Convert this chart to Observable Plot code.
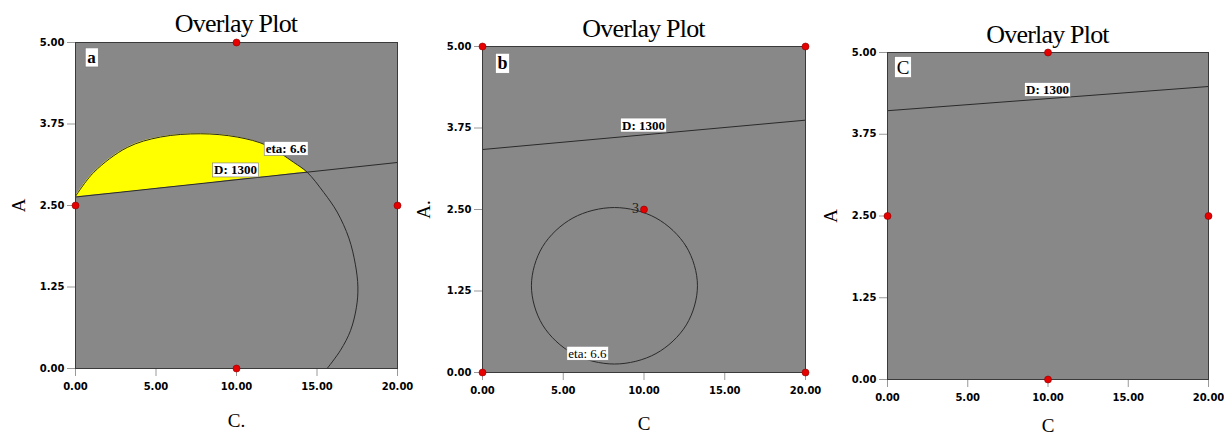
<!DOCTYPE html>
<html><head><meta charset="utf-8">
<script src="https://cdn.jsdelivr.net/npm/d3@7"></script>
<script src="https://cdn.jsdelivr.net/npm/@observablehq/plot@0.6"></script>
<style>
body{margin:0;background:#fff;}
#wrap{position:relative;width:1224px;height:435px;overflow:hidden;background:#fff;}
.panel{position:absolute;top:0;height:435px;}
.title{position:absolute;font-family:"Liberation Serif","Times New Roman",serif;font-size:26px;line-height:26px;letter-spacing:-0.8px;text-align:center;color:#000;white-space:nowrap;}
.chart{position:absolute;left:0;}
.chart svg [aria-label^="x-axis"] text, .chart svg [aria-label^="y-axis"] text{fill:#000;}
</style></head>
<body><div id="wrap"></div>
<script>
// ---- shared axes ----
const cTicks = [0, 5, 10, 15, 20];
const aTicks = [0, 1.25, 2.5, 3.75, 5];

// ---- panel a ----
const designA_C = [10, 0, 20, 10];
const designA_A = [5, 2.5, 2.5, 0];
const dLineA_C = [0, 20];
const dLineA_A = [2.63, 3.16];
const etaA_C = [0, 1.14, 3.21, 5.28, 7.76, 10.04, 11.9, 13.56, 14.39, 15.42, 16.25, 16.98, 17.38, 17.54, 17.45, 17.08, 16.46, 15.63];
const etaA_A = [2.64, 3.01, 3.39, 3.55, 3.60, 3.55, 3.42, 3.16, 3.01, 2.70, 2.40, 2.00, 1.60, 1.25, 0.94, 0.58, 0.28, 0];
const feasC = [0, 1.14, 3.21, 5.28, 7.76, 10.04, 11.9, 13.56, 14.39];
const feasLow = [2.63, 2.66, 2.71, 2.77, 2.83, 2.90, 2.94, 2.99, 3.01];
const feasHigh = [2.64, 3.01, 3.39, 3.55, 3.60, 3.55, 3.42, 3.16, 3.01];
const labelA_text = ["eta: 6.6", "D: 1300"];
const labelA_C = [13.07, 9.94];
const labelA_A = [3.37, 3.04];
const labelA_bold = [true, true];

// ---- panel b ----
const designB_C = [0, 20, 10, 0, 20];
const designB_A = [5, 5, 2.5, 0, 0];
const dLineB_C = [0, 20];
const dLineB_A = [3.42, 3.87];
const etaB_C = [13.31, 12.62, 10.74, 8.17, 5.60, 3.72, 3.03, 3.72, 5.60, 8.17, 10.74, 12.62];
const etaB_A = [1.33, 1.93, 2.37, 2.53, 2.37, 1.93, 1.33, 0.73, 0.29, 0.13, 0.29, 0.73];
const labelB_text = ["D: 1300", "eta: 6.6"];
const labelB_C = [9.97, 6.5];
const labelB_A = [3.79, 0.29];
const labelB_bold = [true, false];
const countB_text = ["3"];
const countB_C = [9.47];
const countB_A = [2.52];

// ---- panel c ----
const designC_C = [10, 0, 20, 10];
const designC_A = [5, 2.5, 2.5, 0];
const dLineC_C = [0, 20];
const dLineC_A = [4.11, 4.48];
const labelC_text = ["D: 1300"];
const labelC_C = [9.97];
const labelC_A = [4.43];
const labelC_bold = [true];

const SERIF = "Liberation Serif, Times New Roman, serif";
const fmt = d => d.toFixed(2);
const idx = arr => d3.range(arr.length);

function boxLabels(text, C, A, bold) {
  return text.map((t, i) => Plot.text([i], {
    x: j => C[j], y: j => A[j], text: j => text[j],
    fontFamily: SERIF, fontSize: 13, fontWeight: bold[i] ? "bold" : "normal",
    fill: "#000", ariaLabel: () => "boxlabel", ariaDescription: "boxlabel"
  }));
}

function makePanel(cfg) {
  const marks = [Plot.frame({fill: "#888888", stroke: null})];
  if (cfg.area) {
    const a = cfg.area;
    marks.push(Plot.areaY(idx(a.C), {x: i => a.C[i], y1: i => a.low[i], y2: i => a.high[i], fill: "#ffff00", curve: "catmull-rom"}));
  }
  for (const ln of cfg.lines) {
    marks.push(Plot.line(idx(ln.C), {x: i => ln.C[i], y: i => ln.A[i], stroke: "#2a2a2a", strokeWidth: 1, curve: ln.curve || "linear", clip: true}));
  }
  marks.push(Plot.frame({stroke: "#3a3a3a", strokeWidth: 1}));
  marks.push(...boxLabels(cfg.labels.text, cfg.labels.C, cfg.labels.A, cfg.labels.bold));
  if (cfg.count) {
    const c = cfg.count;
    marks.push(Plot.text(idx(c.text), {x: i => c.C[i], y: i => c.A[i], text: i => c.text[i], fontFamily: SERIF, fontSize: 14, fontWeight: "normal", fill: "#222"}));
  }
  // panel tag
  marks.push(Plot.text([cfg.tag.text], {text: d => d, frameAnchor: "top-left", dx: cfg.tag.dx, dy: cfg.tag.dy,
    textAnchor: "middle", lineAnchor: "middle", fontFamily: SERIF, fontSize: cfg.tag.size,
    fontWeight: cfg.tag.bold ? "bold" : "normal", fill: "#000", ariaLabel: () => "taglabel", ariaDescription: "taglabel"}));
  // axis labels
  marks.push(Plot.text([cfg.yLabel], {text: d => d, frameAnchor: "left", dx: cfg.yDx, rotate: -90,
    textAnchor: "middle", lineAnchor: "middle", fontFamily: SERIF, fontSize: 19, fontWeight: "normal", fill: "#000"}));
  marks.push(Plot.text([cfg.xLabel], {text: d => d, frameAnchor: "bottom", dy: cfg.xDy,
    textAnchor: "middle", lineAnchor: "middle", fontFamily: SERIF, fontSize: 19, fontWeight: "normal", fill: "#000"}));
  // design points
  marks.push(Plot.dot(idx(cfg.design.C), {x: i => cfg.design.C[i], y: i => cfg.design.A[i], r: 3.5, fill: "#e60000", stroke: "#8a0000", strokeWidth: 0.6}));

  const svg = Plot.plot({
    width: cfg.width, height: cfg.height,
    marginLeft: cfg.mL, marginRight: cfg.mR, marginTop: cfg.mT, marginBottom: cfg.mB,
    x: {domain: [0, 20], ticks: cTicks, tickFormat: fmt, tickSize: 8, tickPadding: 6, label: null},
    y: {domain: [0, 5], ticks: aTicks, tickFormat: fmt, tickSize: 8, tickPadding: 3, label: null},
    style: {fontFamily: "DejaVu Sans", fontSize: "10px", fontWeight: "bold", color: "#999", background: "transparent", overflow: "visible"},
    marks
  });

  const panel = document.createElement("div");
  panel.className = "panel";
  panel.style.left = cfg.left + "px";
  panel.style.width = cfg.width + "px";
  const title = document.createElement("div");
  title.className = "title";
  title.textContent = "Overlay Plot";
  title.style.top = (cfg.titleBaseline - 21.8) + "px";
  title.style.left = cfg.mL + "px";
  title.style.width = (cfg.width - cfg.mL - cfg.mR) + "px";
  panel.appendChild(title);
  const holder = document.createElement("div");
  holder.className = "chart";
  holder.style.top = cfg.svgTop + "px";
  holder.appendChild(svg);
  panel.appendChild(holder);
  document.getElementById("wrap").appendChild(panel);

  // white boxes behind labels
  const ns = "http://www.w3.org/2000/svg";
  const addBox = (key, px, py) => {
    const found = new Set([
      ...svg.querySelectorAll(`text[aria-label="${key}"]`),
      ...svg.querySelectorAll(`g[aria-description="${key}"] text`),
      ...svg.querySelectorAll(`g[aria-label="${key}"] text`)
    ]);
    found.forEach(t => {
      const b = t.getBBox();
      const r = document.createElementNS(ns, "rect");
      r.setAttribute("x", b.x - px);
      r.setAttribute("y", b.y - py);
      r.setAttribute("width", b.width + 2 * px);
      r.setAttribute("height", b.height + 2 * py);
      r.setAttribute("fill", "#fff");
      r.setAttribute("stroke", "#777");
      r.setAttribute("stroke-width", "0.6");
      const tr = t.getAttribute("transform");
      if (tr) r.setAttribute("transform", tr);
      t.parentNode.insertBefore(r, t);
    });
  };
  addBox("boxlabel", 1.5, -0.5);
  addBox("taglabel", 2, 0);
}

makePanel({
  left: 0, width: 410, svgTop: 37, height: 398, mL: 75, mR: 13, mT: 5, mB: 67, titleBaseline: 32.7,
  area: {C: feasC, low: feasLow, high: feasHigh},
  lines: [{C: etaA_C, A: etaA_A, curve: "catmull-rom"}, {C: dLineA_C, A: dLineA_A}],
  labels: {text: labelA_text, C: labelA_C, A: labelA_A, bold: labelA_bold},
  tag: {text: "a", dx: 16, dy: 15, size: 17, bold: true},
  yLabel: "A", yDx: -57, xLabel: "C.", xDy: 52,
  design: {C: designA_C, A: designA_A}
});

makePanel({
  left: 410, width: 410, svgTop: 41, height: 394, mL: 72, mR: 15, mT: 5, mB: 63, titleBaseline: 37.3,
  lines: [{C: etaB_C, A: etaB_A, curve: "catmull-rom-closed"}, {C: dLineB_C, A: dLineB_A}],
  labels: {text: labelB_text, C: labelB_C, A: labelB_A, bold: labelB_bold},
  count: {text: countB_text, C: countB_C, A: countB_A},
  tag: {text: "b", dx: 20, dy: 17, size: 18, bold: true},
  yLabel: "A.", yDx: -59, xLabel: "C", xDy: 51,
  design: {C: designB_C, A: designB_A}
});

makePanel({
  left: 820, width: 404, svgTop: 47, height: 388, mL: 67, mR: 16, mT: 5, mB: 56, titleBaseline: 43.3,
  lines: [{C: dLineC_C, A: dLineC_A}],
  labels: {text: labelC_text, C: labelC_C, A: labelC_A, bold: labelC_bold},
  tag: {text: "C", dx: 15.5, dy: 15, size: 19, bold: false},
  yLabel: "A", yDx: -57, xLabel: "C", xDy: 46,
  design: {C: designC_C, A: designC_A}
});
</script></body></html>
